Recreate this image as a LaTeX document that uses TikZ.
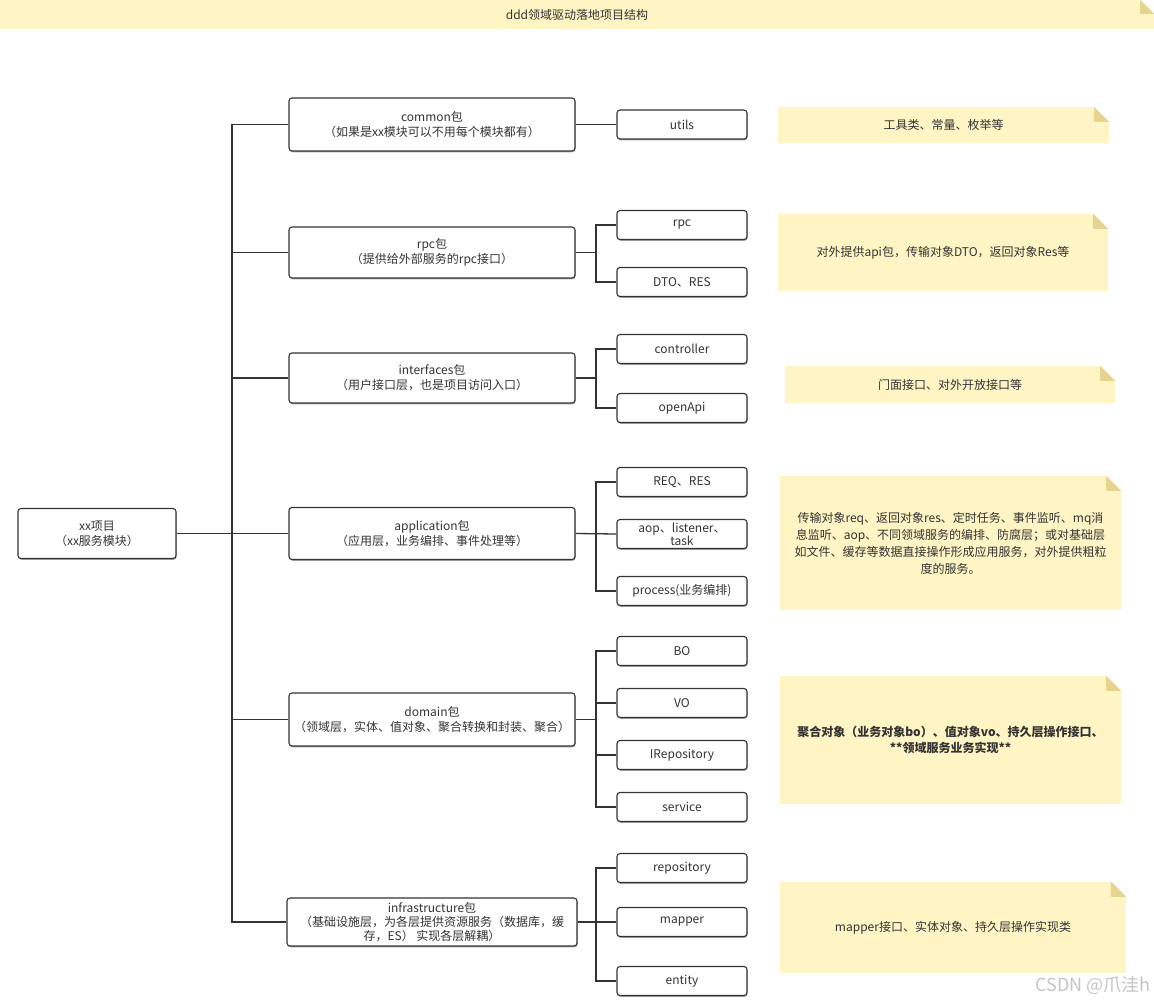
\documentclass[tikz,border=0pt]{standalone}
\usepackage{fontspec}
\setmainfont{Noto Sans CJK SC}
\usetikzlibrary{shadows,calc}
\definecolor{noteyellow}{HTML}{FFF4C3}
\definecolor{notefoldc}{HTML}{E6D38E}
\definecolor{linec}{HTML}{333333}
\definecolor{wmark}{HTML}{C4C4C4}
\tikzset{
  box/.style={draw=linec, line width=1.1pt, rounded corners=3pt, fill=white, align=center,
    inner sep=2pt, font=\fontsize{12}{15}\selectfont, text=linec,
    drop shadow={shadow xshift=0.6pt, shadow yshift=-1.3pt, opacity=0.35, fill=black}},
  pkg/.style={box, minimum width=286pt, minimum height=52pt},
  leaf/.style={box, minimum width=130pt, minimum height=29pt},
  note/.style={fill=noteyellow, align=center, inner sep=0pt, text=linec,
    font=\fontsize{12}{17}\selectfont},
  conn/.style={draw=linec, line width=1.3pt},
}
\newcommand\notefold[2]{%
  \fill[white] (#1.north east) -- ($(#1.north east)+(-#2,0)$) -- ($(#1.north east)+(0,#2)$) -- cycle;
  \fill[notefoldc] ($(#1.north east)+(-#2,0)$) -- ($(#1.north east)+(-#2,#2)$) -- ($(#1.north east)+(0,#2)$) -- cycle;
}
\begin{document}
\begin{tikzpicture}[x=1pt,y=-1pt]
\useasboundingbox[fill=white] (0,0) rectangle (1154,1004);

% title banner
\node[note, minimum width=1154pt, minimum height=29pt] (title) at (577,14.5) {ddd领域驱动落地项目结构};
\notefold{title}{14}

% root
\node[box, minimum width=158pt, minimum height=50pt] (root) at (97,533.5) {xx项目\\（xx服务模块）};

% level 1
\node[pkg, minimum height=53pt] (common) at (432,124.5) {common包\\（如果是xx模块可以不用每个模块都有）};
\node[pkg, minimum height=51pt] (rpcpkg) at (432,252.5) {rpc包\\（提供给外部服务的rpc接口）};
\node[pkg, minimum height=50pt] (intf) at (432,378) {interfaces包\\（用户接口层，也是项目访问入口）};
\node[pkg] (app) at (432,533.5) {application包\\（应用层，业务编排、事件处理等）};
\node[pkg, minimum height=53pt] (dom) at (432,719.5) {domain包\\（领域层，实体、值对象、聚合转换和封装、聚合）};
\node[pkg, minimum width=290pt, minimum height=48pt, font=\fontsize{12}{14}\selectfont] (infra) at (432,922) {infrastructure包\\（基础设施层，为各层提供资源服务（数据库，缓\\存，ES） 实现各层解耦）};

% level 2
\node[leaf] (utils) at (682,124.5) {utils};
\node[leaf] (rpcleaf) at (682,225) {rpc};
\node[leaf] (dto) at (682,282) {DTO、RES};
\node[leaf] (ctrl) at (682,349) {controller};
\node[leaf] (openapi) at (682,408) {openApi};
\node[leaf] (reqres) at (682,482) {REQ、RES};
\node[leaf, font=\fontsize{12}{13}\selectfont] (aop) at (682,534) {aop、listener、\\task};
\node[leaf] (process) at (682,591) {process(业务编排)};
\node[leaf] (bo) at (682,651) {BO};
\node[leaf] (vo) at (682,703) {VO};
\node[leaf] (irepo) at (682,755) {IRepository};
\node[leaf] (service) at (682,807) {service};
\node[leaf] (repo) at (682,868) {repository};
\node[leaf] (mapper) at (682,922) {mapper};
\node[leaf] (entity) at (682,981) {entity};

% connectors
\coordinate (tx) at (232,0);
\coordinate (bx) at (596,0);
\draw[conn] (common.west) -- (common.west -| tx) -- (infra.west -| tx) -- (infra.west);
\draw[conn] (rpcpkg.west) -- (rpcpkg.west -| tx);
\draw[conn] (intf.west) -- (intf.west -| tx);
\draw[conn] (dom.west) -- (dom.west -| tx);
\draw[conn] (root.east) -- (app.west);

\draw[conn] (common.east) -- (utils.west);

\draw[conn] (rpcleaf.west) -- (rpcleaf.west -| bx) -- (dto.west -| bx) -- (dto.west);
\draw[conn] (rpcpkg.east) -- (rpcpkg.east -| bx);

\draw[conn] (ctrl.west) -- (ctrl.west -| bx) -- (openapi.west -| bx) -- (openapi.west);
\draw[conn] (intf.east) -- (intf.east -| bx);

\draw[conn] (reqres.west) -- (reqres.west -| bx) -- (process.west -| bx) -- (process.west);
\draw[conn] (app.east) -- (aop.west);

\draw[conn] (bo.west) -- (bo.west -| bx) -- (service.west -| bx) -- (service.west);
\draw[conn] (vo.west) -- (vo.west -| bx);
\draw[conn] (irepo.west) -- (irepo.west -| bx);
\draw[conn] (dom.east) -- (dom.east -| bx);

\draw[conn] (repo.west) -- (repo.west -| bx) -- (entity.west -| bx) -- (entity.west);
\draw[conn] (infra.east) -- (mapper.west);

% notes
\node[note, minimum width=331pt, minimum height=36pt] (n1) at (943.5,125) {工具类、常量、枚举等};
\notefold{n1}{15}
\node[note, minimum width=330pt, minimum height=77pt] (n2) at (943,252.5) {对外提供api包，传输对象DTO，返回对象Res等};
\notefold{n2}{15}
\node[note, minimum width=330pt, minimum height=37pt] (n3) at (950,384.5) {门面接口、对外开放接口等};
\notefold{n3}{15}
\node[note, minimum width=341pt, minimum height=134pt] (n4) at (950.5,543) {传输对象req、返回对象res、定时任务、事件监听、mq消\\息监听、aop、不同领域服务的编排、防腐层；或对基础层\\如文件、缓存等数据直接操作形成应用服务，对外提供粗粒\\度的服务。};
\notefold{n4}{15}
\node[note, minimum width=341pt, minimum height=128pt, font=\fontsize{12}{16}\selectfont\bfseries] (n5) at (950.5,740) {聚合对象（业务对象bo）、值对象vo、持久层操作接口、\\**领域服务业务实现**};
\notefold{n5}{15}
\node[note, minimum width=346pt, minimum height=91pt] (n6) at (953,927.5) {mapper接口、实体对象、持久层操作实现类};
\notefold{n6}{15}

% watermark
\node[anchor=east, text=wmark, font=\fontsize{18}{20}\selectfont, inner sep=0pt] (wm) at (1151,985) {CSDN @爪洼h};
\end{tikzpicture}
\end{document}
